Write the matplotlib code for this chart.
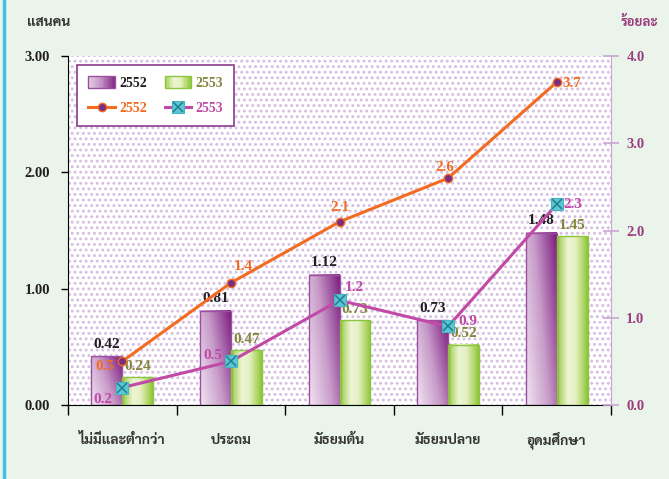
import matplotlib
matplotlib.use("Agg")
import numpy as np
import matplotlib.pyplot as plt
from matplotlib.patches import Rectangle
from matplotlib.lines import Line2D
from matplotlib.legend_handler import HandlerBase
from matplotlib.colors import LinearSegmentedColormap

# data
categories = ['ไม่มีและต่ำกว่า', 'ประถม', 'มัธยมต้น', 'มัธยมปลาย', 'อุดมศึกษา']
people_2552 = [0.42, 0.81, 1.12, 0.73, 1.48]   # แสนคน
people_2553 = [0.24, 0.47, 0.73, 0.52, 1.45]
pct_2552 = [0.5, 1.4, 2.1, 2.6, 3.7]            # ร้อยละ
pct_2553 = [0.2, 0.5, 1.2, 0.9, 2.3]
years = ['2552', '2553']

# label offsets in pixels (style only)
off_2552 = [(-17, -5), (12, 16), (0, 14), (-3, 11), (15, -1)]
off_2553 = [(-19, -12), (-18, 6), (15, 13), (20, 5), (16, 0)]

plt.rcParams['hatch.linewidth'] = 1.3
serif = ['Liberation Serif', 'DejaVu Serif']
thai = ['Sarabun', 'Noto Sans Thai', 'DejaVu Sans']

bg = '#EAF4EA'
purple_dark = '#7E1E80'
purple_light = '#F2E4F2'
orange = '#F26B21'
magenta = '#C04AA6'
olive = '#85853A'
cyan = '#5CC6D4'

purple_cmap = LinearSegmentedColormap.from_list('p', [purple_light, '#C79BC9', purple_dark])
green_cmap = LinearSegmentedColormap.from_list(
    'g', [(0, '#8CC63F'), (0.12, '#B8DB78'), (0.35, '#EDF5D4'), (0.6, '#E4F0C4'),
          (0.85, '#B3D768'), (1, '#8CC63F')])


def purple_img():
    u, v = np.meshgrid(np.linspace(0, 1, 32), np.linspace(0, 1, 64))
    return purple_cmap(np.clip(0.65 * u + 0.35 * v, 0, 1))


def green_img():
    u, v = np.meshgrid(np.linspace(0, 1, 32), np.linspace(0, 1, 4))
    return green_cmap(u)


class GradHandler(HandlerBase):
    def __init__(self, kind):
        super().__init__()
        self.kind = kind

    def create_artists(self, legend, orig_handle, xdescent, ydescent, width, height, fontsize, trans):
        arts = []
        n = 20
        for k in range(n):
            t = (k + 0.5) / n
            c = purple_cmap(0.15 + 0.8 * t) if self.kind == 'p' else green_cmap(t)
            arts.append(Rectangle((-xdescent + width * k / n, -ydescent), width / n + 0.3, height,
                                  facecolor=c, edgecolor='none', transform=trans))
        ec = '#9C4FA0' if self.kind == 'p' else '#8CC63F'
        arts.append(Rectangle((-xdescent, -ydescent), width, height, facecolor='none',
                              edgecolor=ec, lw=1, transform=trans))
        return arts


fig = plt.figure(figsize=(6.69, 4.79), dpi=100, facecolor=bg)
ax = fig.add_axes([68 / 669, 1 - 405 / 479, 543 / 669, 349 / 479])
ax2 = ax.twinx()

ax.set_facecolor('white')
ax.add_patch(Rectangle((0, 0), 1, 1, transform=ax.transAxes, facecolor='white',
                       hatch='...', edgecolor='#D5BDE0', lw=0, zorder=0))

x = np.arange(len(categories)) + 0.5
w = 0.285
for i in range(len(categories)):
    h1 = people_2552[i]
    ax.imshow(purple_img(), extent=[x[i] - w, x[i], 0, h1], origin='lower',
              aspect='auto', interpolation='bilinear', zorder=2)
    ax.add_patch(Rectangle((x[i] - w, 0), w, h1, facecolor='none', edgecolor='#9C4FA0',
                           lw=1, zorder=3))
    h2 = people_2553[i]
    ax.imshow(green_img(), extent=[x[i], x[i] + w, 0, h2], origin='lower',
              aspect='auto', interpolation='bilinear', zorder=2)
    ax.add_patch(Rectangle((x[i], 0), w, h2, facecolor='none', edgecolor='#8CC63F',
                           lw=1, zorder=3))
    ax.annotate(f'{h1:.2f}', (x[i] - w / 2, h1), xytext=(0, 12), textcoords='offset pixels',
                ha='center', va='center', fontsize=11, fontweight='bold', family=serif,
                color='#231F20', zorder=5)
    ax.annotate(f'{h2:.2f}', (x[i] + w / 2, h2), xytext=(0, 11), textcoords='offset pixels',
                ha='center', va='center', fontsize=11, fontweight='bold', family=serif,
                color=olive, zorder=5)

ax.set_xlim(0, len(categories))
ax.set_ylim(0, 3)
ax2.set_ylim(0, 4)

l1, = ax2.plot(x, pct_2552, color=orange, lw=2.2, marker='o', ms=6,
               mfc='#7B2D83', mec=orange, mew=1, zorder=4)
l2, = ax2.plot(x, pct_2553, color=magenta, lw=2.2, marker='s', ms=9,
               mfc=cyan, mec='#49B3C2', mew=0.8, zorder=4)
l2x, = ax2.plot(x, pct_2553, ls='none', marker='x', ms=7, mec='#1F7F8E', mew=1.1, zorder=5)

for i in range(len(categories)):
    ax2.annotate(f'{pct_2552[i]:.1f}', (x[i], pct_2552[i]), xytext=off_2552[i],
                 textcoords='offset pixels', ha='center', va='center', fontsize=11,
                 fontweight='bold', family=serif, color=orange, zorder=6)
    ax2.annotate(f'{pct_2553[i]:.1f}', (x[i], pct_2553[i]), xytext=off_2553[i],
                 textcoords='offset pixels', ha='center', va='center', fontsize=11,
                 fontweight='bold', family=serif, color=magenta, zorder=6)

# axes styling
ax.set_yticks([0, 1, 2, 3])
ax.set_yticklabels([f'{v:.2f}' for v in [0, 1, 2, 3]], fontsize=10.5, fontweight='bold',
                   family=serif, color='#231F20')
ax.tick_params(axis='y', length=5, width=1, color='black', pad=8)
ax.set_xticks(x)
ax.set_xticklabels(categories, family=thai, fontsize=10, fontweight='bold', color='#333333',
                   va='baseline')
ax.tick_params(axis='x', which='major', length=0, pad=28)
ax.set_xticks(np.arange(len(categories) + 1), minor=True)
ax.tick_params(axis='x', which='minor', length=7, width=1, color='black', direction='out')
for s in ['top', 'right']:
    ax.spines[s].set_visible(False)
ax.spines['left'].set_color('black')
ax.spines['bottom'].set_color('black')

ax2.set_yticks([0, 1, 2, 3, 4])
ax2.set_yticklabels([f'{v:.1f}' for v in [0, 1, 2, 3, 4]], fontsize=10.5, fontweight='bold',
                    family=serif, color='#9B3D7E')
ax2.tick_params(axis='y', length=12, width=1.2, color='#C9A6D2', direction='inout', pad=5)
ax2.spines['right'].set_color('#C9A6D2')
ax2.spines['top'].set_visible(False)
ax2.spines['left'].set_visible(False)
ax2.spines['bottom'].set_visible(False)

fig.text(27 / 669, 1 - 26 / 479, 'แสนคน', family=thai, fontsize=10, fontweight='bold',
         color='#333333', ha='left', va='baseline')
fig.text(639 / 669, 1 - 26 / 479, 'ร้อยละ', family=thai, fontsize=9.5, fontweight='bold',
         color='#9B3D7E', ha='center', va='baseline')

# left border line
fig.add_artist(Line2D([4 / 669, 4 / 669], [0, 1], transform=fig.transFigure,
                      color='#3FC1EA', lw=2.5))

bar1 = Rectangle((0, 0), 1, 1)
bar2 = Rectangle((0, 0), 1, 1)
leg = ax2.legend([bar1, l1, bar2, (l2, l2x)],
                 [years[0], years[0], years[1], years[1]], ncol=2,
                 handler_map={bar1: GradHandler('p'), bar2: GradHandler('g')},
                 loc='upper left', bbox_to_anchor=(0.017, 0.974), borderaxespad=0,
                 frameon=True, fancybox=False, edgecolor='#8B3A8B', facecolor='white',
                 framealpha=1, prop={'family': serif, 'weight': 'bold', 'size': 10},
                 labelcolor=['#231F20', orange, olive, magenta],
                 handlelength=1.9, handleheight=0.9, columnspacing=1.3,
                 borderpad=0.8, labelspacing=0.85, handletextpad=0.3)
leg.get_frame().set_linewidth(1.2)

fig.savefig('out.png', dpi=100, facecolor=bg)
